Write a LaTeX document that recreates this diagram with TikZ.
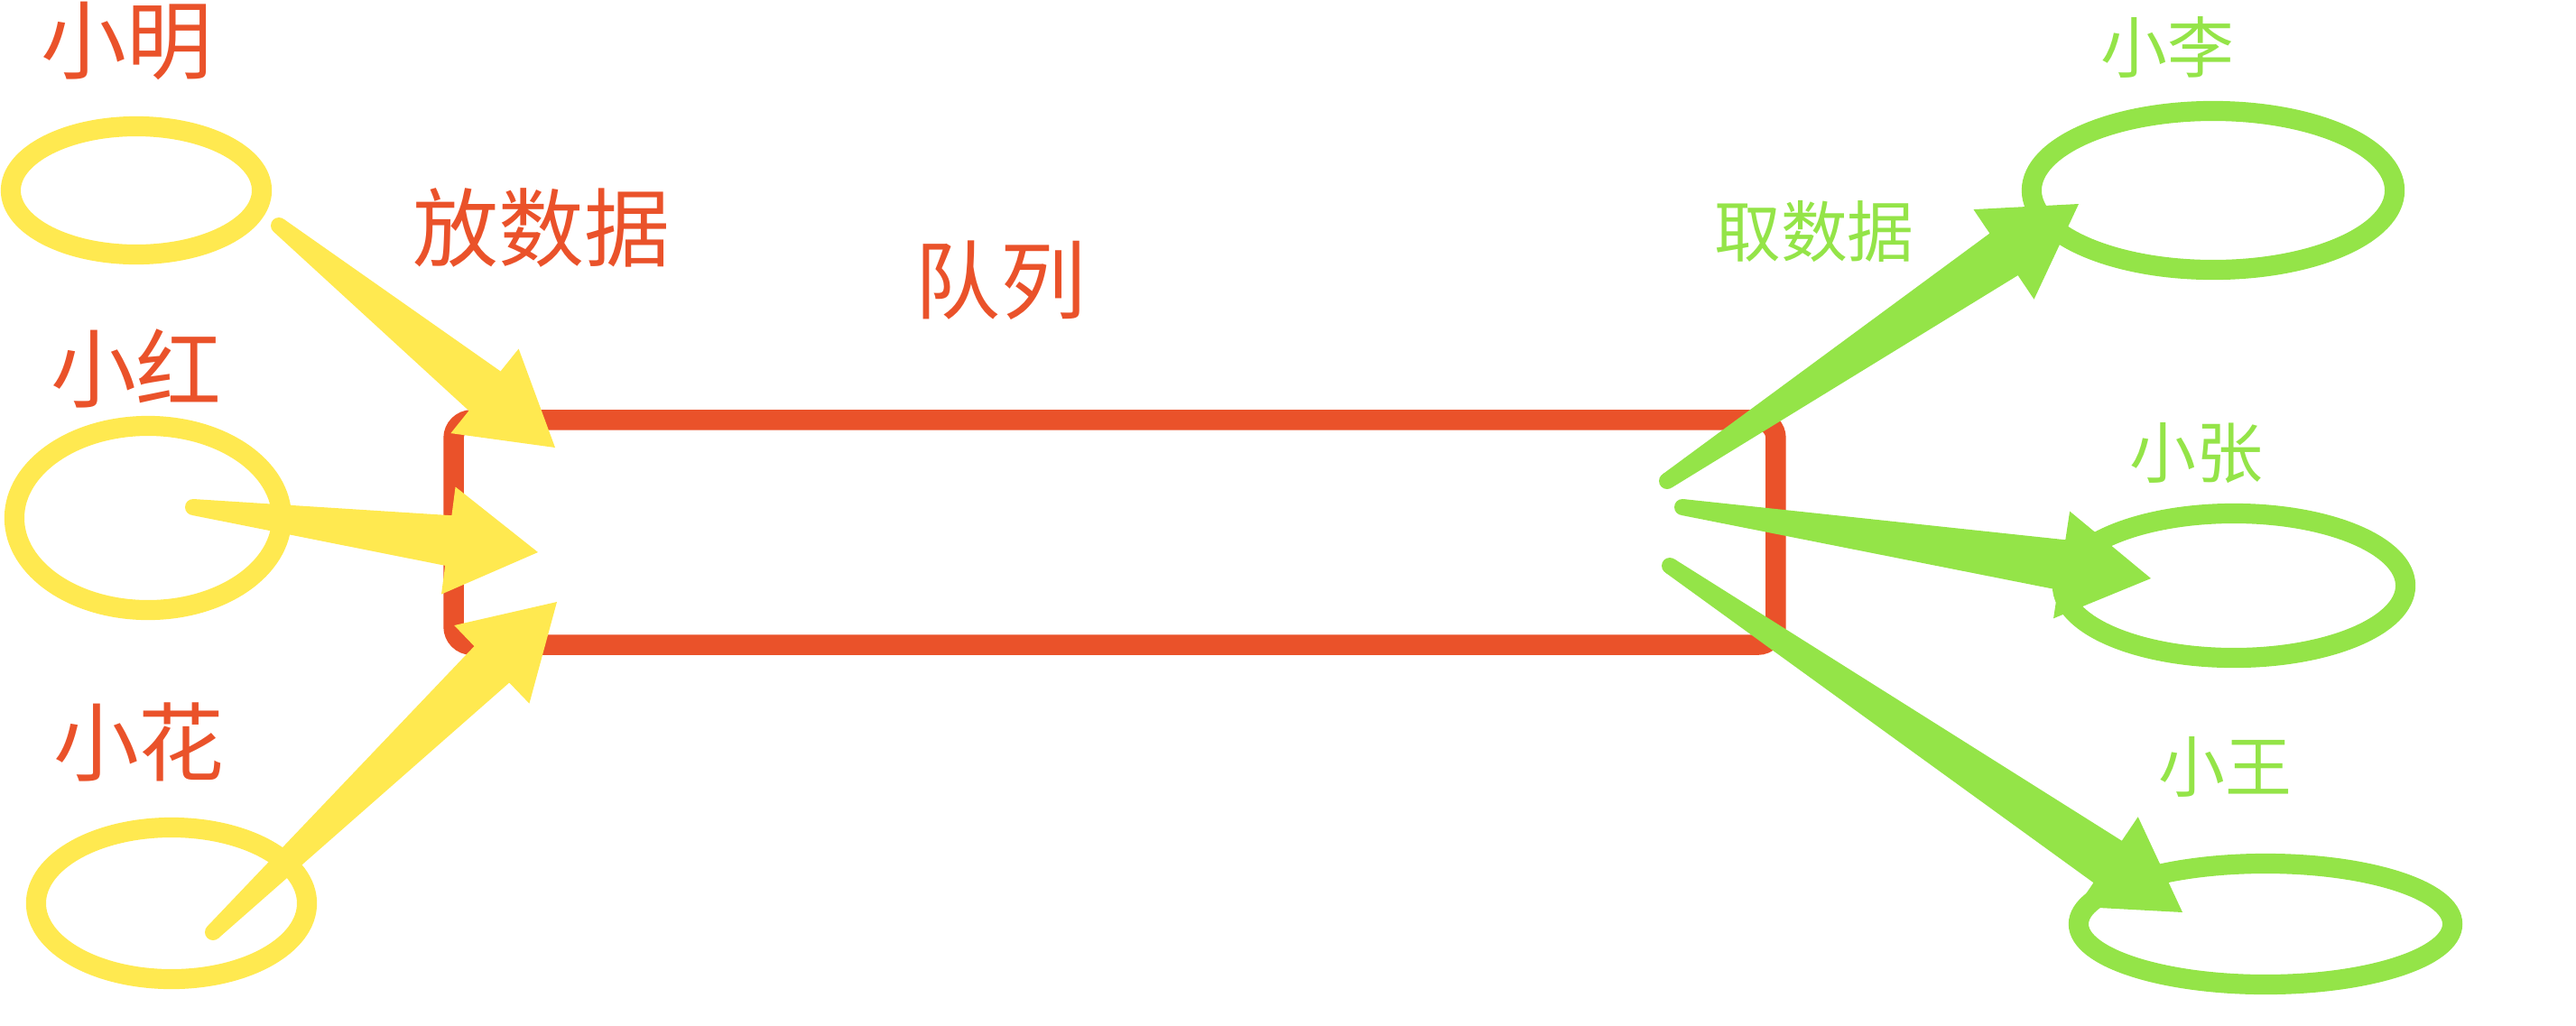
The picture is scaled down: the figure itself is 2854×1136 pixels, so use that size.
\documentclass[tikz,border=0pt]{standalone}
\usepackage{fontspec}
\newfontfamily\cjk{Noto Sans CJK SC}
\usepackage{tikz}
\usetikzlibrary{calc,shapes.geometric}

\definecolor{putyellow}{RGB}{255,233,80}
\definecolor{queuered}{RGB}{234,82,42}
\definecolor{takegreen}{RGB}{148,228,72}

% fat hand drawn arrow: colour, start, tip
\newcommand{\fatarrow}[3]{%
    \coordinate (#2-b) at ($(#3)!1cm!(#2)$);
    \fill[#1] ($(#2)!0.09cm!90:(#3)$) -- ($(#2-b)!0.28cm!90:(#3)$) -- ($(#2-b)!0.6cm!90:(#3)$) -- (#3)
        -- ($(#2-b)!0.6cm!-90:(#3)$) -- ($(#2-b)!0.28cm!-90:(#3)$) -- ($(#2)!0.09cm!-90:(#3)$) -- cycle;
    \fill[#1] (#2) circle (0.09cm);
}

\begin{document}
\begin{tikzpicture}[x=0.01cm,y=-0.01cm,
    who/.style={ellipse,draw,line width=6.3pt,inner sep=0pt},
    redtext/.style={text=queuered,font=\cjk\fontsize{27}{32}\selectfont},
    greentext/.style={text=takegreen,font=\cjk\fontsize{21}{25}\selectfont}]

    \useasboundingbox (0,0) rectangle (2854,1136);

    % people
    \foreach \n/\x/\y/\w/\h in {ming/151/211/2.78/1.42, hong/164/574/2.96/2.04, hua/190/1001/3.0/1.68}
        \node[who,draw=putyellow,minimum width=\w cm,minimum height=\h cm] (\n) at (\x,\y) {};
    \foreach \n/\x/\y/\w/\h in {li/2452/211/4.02/1.76, zhang/2475/649/3.8/1.6, wang/2510/1024/4.14/1.34}
        \node[who,draw=takegreen,minimum width=\w cm,minimum height=\h cm] (\n) at (\x,\y) {};

    \foreach \n/\x/\y/\t in {ming/140/45/小明, hong/151/408/小红, hua/154/822/小花}
        \node[redtext] (\n-t) at (\x,\y) {\t};
    \foreach \n/\x/\y/\t in {li/2401/52/小李, zhang/2433/502/小张, wang/2465/850/小王}
        \node[greentext] (\n-t) at (\x,\y) {\t};

    % queue
    \node[draw=queuered,line width=6.4pt,rounded corners=0.2cm,minimum width=14.64cm,minimum height=2.49cm] (queue) at (1235,590) {};
    \node[redtext] (queue-t) at (1108,311) {队列};
    \node[redtext] (put-t) at (600,252) {放数据};
    \node[greentext] (take-t) at (2010,257) {取数据};

    % arrows
    \coordinate (ming-s) at (309,250);   \coordinate (ming-e) at (615,496);
    \coordinate (hong-s) at (214,562);   \coordinate (hong-e) at (596,612);
    \coordinate (hua-s) at (236,1033);   \coordinate (hua-e) at (617,667);
    \coordinate (li-s) at (1847,533);    \coordinate (li-e) at (2303,226);
    \coordinate (zhang-s) at (1864,562); \coordinate (zhang-e) at (2383,641);
    \coordinate (wang-s) at (1850,627);  \coordinate (wang-e) at (2418,1011);

    \foreach \n in {ming,hong,hua} {\fatarrow{putyellow}{\n-s}{\n-e}}
    \foreach \n in {li,zhang,wang} {\fatarrow{takegreen}{\n-s}{\n-e}}

\end{tikzpicture}
\end{document}
